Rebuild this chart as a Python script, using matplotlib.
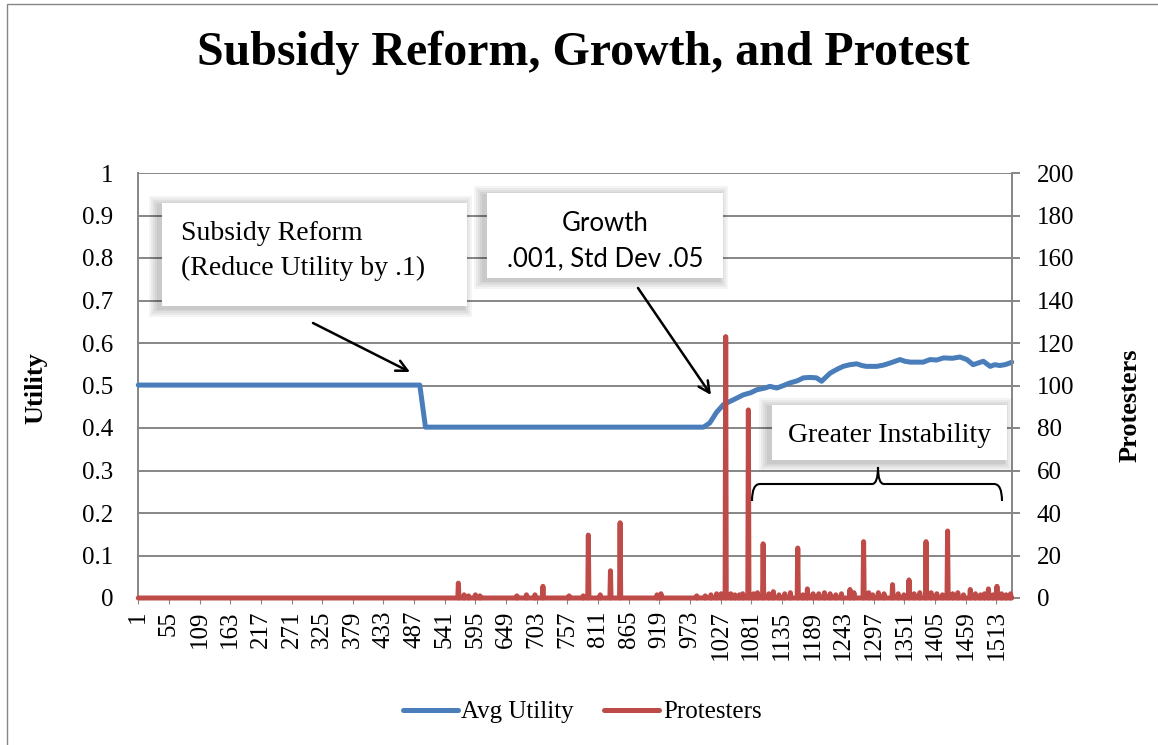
import numpy as np
import matplotlib
matplotlib.use("Agg")
import matplotlib.pyplot as plt
from matplotlib.patches import Rectangle, FancyArrowPatch, PathPatch
from matplotlib.path import Path

# ---------------- data ----------------
N_STEPS = 1540
tick_labels = ["1", "55", "109", "163", "217", "271", "325", "379", "433", "487",
               "541", "595", "649", "703", "757", "811", "865", "919", "973", "1027",
               "1081", "1135", "1189", "1243", "1297", "1351", "1405", "1459", "1513"]

utility_x = [1, 497, 507, 997, 1008, 1020, 1032, 1049, 1067, 1080, 1091, 1105, 1114,
             1126, 1138, 1149, 1162, 1173, 1185, 1196, 1205, 1220, 1232, 1243, 1255,
             1267, 1276, 1284, 1302, 1314, 1326, 1343, 1352, 1361, 1384, 1396, 1408,
             1420, 1435, 1449, 1461, 1472, 1481, 1490, 1502, 1510, 1519, 1528, 1537, 1540]
utility_y = [0.501, 0.501, 0.402, 0.402, 0.412, 0.437, 0.455, 0.466, 0.478, 0.483,
             0.490, 0.494, 0.498, 0.494, 0.500, 0.506, 0.511, 0.518, 0.519, 0.518,
             0.510, 0.529, 0.538, 0.545, 0.549, 0.551, 0.547, 0.545, 0.545, 0.548,
             0.553, 0.561, 0.557, 0.555, 0.555, 0.561, 0.560, 0.565, 0.564, 0.567,
             0.561, 0.549, 0.553, 0.557, 0.545, 0.549, 0.547, 0.549, 0.553, 0.555]

spike_x = [565, 575, 583, 595, 603, 668, 685, 700, 714, 760, 785, 794, 815, 833, 850,
           915, 922, 985, 1000, 1010, 1020, 1028, 1036, 1045, 1052, 1060, 1066, 1076,
           1085, 1092, 1102, 1112, 1120, 1130, 1140, 1150, 1163, 1172, 1180, 1190, 1200,
           1210, 1220, 1230, 1240, 1255, 1262, 1279, 1288, 1295, 1305, 1315, 1330, 1340,
           1350, 1359, 1368, 1378, 1389, 1398, 1408, 1418, 1427, 1436, 1445, 1455, 1467,
           1476, 1485, 1492, 1499, 1507, 1514, 1522, 1530, 1538]
spike_y = [7, 1.5, 1, 1.5, 1, 1, 1.5, 1.5, 5.5, 1, 1, 29.6, 1.5, 12.8, 35.4,
           1.5, 2, 1, 1, 1.5, 2, 2, 123, 2, 1.5, 1.5, 2, 88.5,
           2, 2.5, 25.5, 2, 3, 1.5, 2, 2.5, 23.5, 1.5, 4.3, 2, 2,
           2.5, 2, 1.5, 2, 4, 2.5, 26.5, 2.5, 1.5, 2.5, 2, 6.3, 2,
           1.5, 8.5, 2, 2.5, 26.5, 2.5, 2, 1.5, 31.5, 2, 2.5, 1.5, 4,
           2, 1.5, 2, 4.3, 1.5, 5.5, 2, 1.5, 2]

# ---------------- figure ----------------
W, H = 1158, 745
BLUE = "#4A7EBB"
RED = "#BE4B48"
GRID = "#868686"
SERIF = ["Liberation Serif", "DejaVu Serif"]
SANS = ["Lato", "DejaVu Sans"]

fig = plt.figure(figsize=(W / 100, H / 100), dpi=100)
fig.patch.set_facecolor("white")


def fx(px):
    return px / W


def fy(py):
    return 1 - py / H


L, R, T, B = 138, 1012, 173, 598
ax = fig.add_axes([fx(L), fy(B), (R - L) / W, (B - T) / H])
ax2 = ax.twinx()

steps = np.arange(1, N_STEPS + 1)
protesters = np.zeros(N_STEPS)
protesters[np.array(spike_x) - 1] = spike_y

l1, = ax.plot(utility_x, utility_y, color=BLUE, lw=3.6, solid_joinstyle="round",
              solid_capstyle="round", clip_on=False, label="Avg Utility", zorder=3)
l2, = ax2.plot(steps, protesters, color=RED, lw=3.6, solid_joinstyle="round",
               solid_capstyle="round", clip_on=False, label="Protesters", zorder=3)

ax.set_xlim(0.5, N_STEPS + 0.5)
ax.set_ylim(0, 1)
ax2.set_ylim(0, 200)

ax.set_yticks(np.arange(0, 1.01, 0.1))
ax.set_yticklabels(["0", "0.1", "0.2", "0.3", "0.4", "0.5", "0.6", "0.7", "0.8", "0.9", "1"])
ax2.set_yticks(np.arange(0, 201, 20))
ax2.set_yticklabels([str(v) for v in range(0, 201, 20)])

tick_pos = [int(t) for t in tick_labels]
ax.set_xticks(tick_pos)
ax.set_xticklabels(tick_labels, rotation=90, va="top", ha="center")

ax.yaxis.grid(True, color=GRID, lw=1.4)
ax.set_axisbelow(True)

for a in (ax, ax2):
    for s in a.spines.values():
        s.set_visible(False)
ax.spines["left"].set_visible(True)
ax.spines["left"].set_color(GRID)
ax.spines["left"].set_linewidth(1.4)
ax2.spines["right"].set_visible(True)
ax2.spines["right"].set_color(GRID)
ax2.spines["right"].set_linewidth(1.4)
ax.spines["bottom"].set_visible(True)
ax.spines["bottom"].set_color(GRID)

ax.tick_params(axis="y", length=0, pad=18, labelsize=18)
ax.tick_params(axis="x", length=4, color=GRID, pad=5, labelsize=18)
ax2.tick_params(axis="y", length=6, color=GRID, width=1.4, pad=12, labelsize=18)
for lab in ax.get_xticklabels() + ax.get_yticklabels() + ax2.get_yticklabels():
    lab.set_family(SERIF)

# axis titles
fig.text(fx(36), fy(388), "Utility", rotation=90, ha="center", va="center",
         family=SERIF, fontsize=19, fontweight="bold")
fig.text(fx(1130), fy(405), "Protesters", rotation=90, ha="center", va="center",
         family=SERIF, fontsize=19, fontweight="bold")

# title
fig.text(fx(583), fy(53), "Subsidy Reform, Growth, and Protest", ha="center", va="center",
         family=SERIF, fontsize=34.5, fontweight="bold")

# chart border
fig.add_artist(Rectangle((fx(7), fy(800)), fx(1300), (800 - 4) / H, transform=fig.transFigure,
                         facecolor="none", edgecolor=GRID, lw=1.0, zorder=0.5))


def shadow_box(x0, y0, x1, y1):
    for g in [9, 7, 5, 3, 1.5]:
        fig.add_artist(Rectangle((fx(x0 - 4 - g), fy(y1 + 2 + g)),
                                 (x1 - x0 + 2 * g) / W, (y1 - y0 + 2 * g) / H,
                                 transform=fig.transFigure, facecolor="black",
                                 edgecolor="none", alpha=0.045, zorder=4))
    fig.add_artist(Rectangle((fx(x0), fy(y1)), (x1 - x0) / W, (y1 - y0) / H,
                             transform=fig.transFigure, facecolor="white",
                             edgecolor="none", zorder=5))


shadow_box(162, 203, 467, 306)
fig.text(fx(181), fy(240), "Subsidy Reform", ha="left", va="baseline",
         family=SERIF, fontsize=20, zorder=6)
fig.text(fx(181), fy(275), "(Reduce Utility by .1)", ha="left", va="baseline",
         family=SERIF, fontsize=20, zorder=6)

shadow_box(487, 193, 723, 278)
fig.text(fx(605), fy(231), "Growth", ha="center", va="baseline",
         family=SANS, fontsize=18.5, zorder=6)
fig.text(fx(605), fy(266), ".001, Std Dev .05", ha="center", va="baseline",
         family=SANS, fontsize=18.5, zorder=6)

shadow_box(772, 405, 1007, 460)
fig.text(fx(890), fy(442), "Greater Instability", ha="center", va="baseline",
         family=SERIF, fontsize=20, zorder=6)

# arrows
for (x0, y0, x1, y1) in [(313, 323, 410, 372), (638, 288, 711, 395)]:
    fig.add_artist(FancyArrowPatch((fx(x0), fy(y0)), (fx(x1), fy(y1)),
                                   transform=fig.transFigure,
                                   arrowstyle="->,head_length=8,head_width=4",
                                   color="black", lw=1.8, zorder=6,
                                   shrinkA=0, shrinkB=0))

# brace
bx0, bx1, bxm = 752, 1002, 878
by, bend, btop = 484, 501, 467
verts = [(bx0, bend), (bx0, by), (bx0 + 8, by), (bxm - 6, by),
         (bxm, by), (bxm, btop), (bxm, by), (bxm + 6, by),
         (bx1 - 8, by), (bx1, by), (bx1, bend)]
codes = [Path.MOVETO, Path.CURVE3, Path.CURVE3, Path.LINETO,
         Path.CURVE3, Path.CURVE3, Path.CURVE3, Path.CURVE3,
         Path.LINETO, Path.CURVE3, Path.CURVE3]
verts_f = [(fx(x), fy(y)) for x, y in verts]
fig.add_artist(PathPatch(Path(verts_f, codes), transform=fig.transFigure,
                         facecolor="none", edgecolor="black", lw=1.5, zorder=6))

# legend
leg = fig.legend(handles=[l1, l2], labels=["Avg Utility", "Protesters"], ncol=2,
                 loc="center", bbox_to_anchor=(fx(582), fy(712)), frameon=False,
                 prop={"family": SERIF, "size": 18}, handlelength=2.2,
                 handletextpad=0.15, columnspacing=1.2)

fig.savefig("out.png", dpi=100)
